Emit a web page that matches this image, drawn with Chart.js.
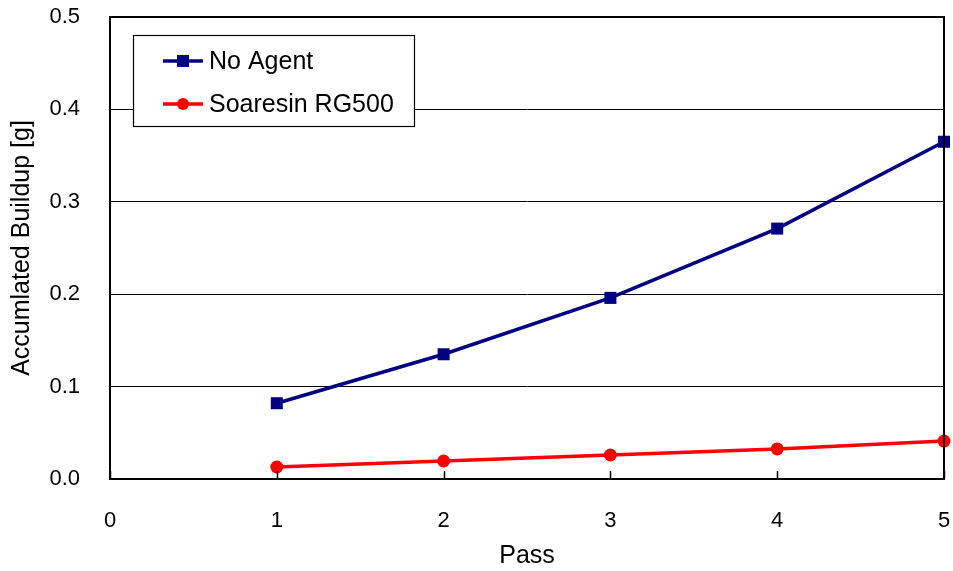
<!DOCTYPE html>
<html>
<head>
<meta charset="utf-8">
<script src="https://cdn.jsdelivr.net/npm/chart.js@4/dist/chart.umd.min.js"></script>
<style>
html,body{margin:0;padding:0;background:#fff;}
#wrap{width:953px;height:571px;}
</style>
</head>
<body>
<div id="wrap"><canvas id="c" width="953" height="571"></canvas></div>
<script>
const passes = [1, 2, 3, 4, 5];
const noAgent = [0.082, 0.135, 0.196, 0.271, 0.365];
const soaresin = [0.013, 0.0195, 0.026, 0.0325, 0.041];
const seriesNames = ['No Agent', 'Soaresin RG500'];
const xTicks = [0, 1, 2, 3, 4, 5];
const yTicks = [0.0, 0.1, 0.2, 0.3, 0.4, 0.5];

const FONT = '"Liberation Sans", Arial, sans-serif';
const AREA = {left: 110, top: 17, right: 944, bottom: 479};

const fixLayout = {
  id: 'fixLayout',
  afterLayout(chart) {
    const W = chart.width, H = chart.height;
    const x = chart.scales.x, y = chart.scales.y;
    x.left = AREA.left; x.right = AREA.right; x.top = AREA.bottom; x.bottom = H;
    x.width = x.right - x.left; x.height = x.bottom - x.top;
    y.left = 0; y.right = AREA.left; y.top = AREA.top; y.bottom = AREA.bottom;
    y.width = y.right - y.left; y.height = y.bottom - y.top;
    x.configure(); y.configure();
    x._labelItems = null; y._labelItems = null;
    x._gridLineItems = null; y._gridLineItems = null;
    chart.chartArea = {left: AREA.left, top: AREA.top, right: AREA.right, bottom: AREA.bottom,
      width: AREA.right - AREA.left, height: AREA.bottom - AREA.top};
  }
};

const framePlugin = {
  id: 'frame',
  afterDatasetsDraw(chart) {
    const {ctx, chartArea: a, scales: {x}} = chart;
    ctx.save();
    ctx.strokeStyle = '#000';
    ctx.lineWidth = 1.5;
    ctx.beginPath();
    xTicks.forEach(v => {
      const px = Math.round(x.getPixelForValue(v)) + 0.5;
      ctx.moveTo(px, a.bottom);
      ctx.lineTo(px, a.bottom - 8);
    });
    ctx.stroke();
    ctx.lineWidth = 2;
    ctx.strokeRect(a.left, a.top, a.right - a.left, a.bottom - a.top);
    // legend
    const bx = 133.5, by = 35.5, bw = 281, bh = 91;
    ctx.fillStyle = '#fff';
    ctx.fillRect(bx, by, bw, bh);
    ctx.lineWidth = 1.2;
    ctx.strokeStyle = '#000';
    ctx.strokeRect(bx, by, bw, bh);
    const rows = [61, 104];
    chart.data.datasets.forEach((ds, i) => {
      const yy = rows[i];
      ctx.strokeStyle = ds.borderColor;
      ctx.lineWidth = 3.5;
      ctx.beginPath();
      ctx.moveTo(163, yy);
      ctx.lineTo(203, yy);
      ctx.stroke();
      ctx.fillStyle = ds.backgroundColor;
      if (ds.pointStyle === 'rect') {
        ctx.fillRect(183 - 6, yy - 6, 12, 12);
      } else {
        ctx.beginPath();
        ctx.arc(183, yy, 6, 0, Math.PI * 2);
        ctx.fill();
      }
      ctx.fillStyle = '#000';
      ctx.font = '25px ' + FONT;
      ctx.textBaseline = 'middle';
      ctx.textAlign = 'left';
      ctx.fillText(ds.label, 209, yy + 1);
    });
    ctx.restore();
  }
};

new Chart(document.getElementById('c'), {
  type: 'line',
  data: {
    datasets: [
      {
        label: seriesNames[0],
        data: passes.map((p, i) => ({x: p, y: noAgent[i]})),
        borderColor: '#000080',
        backgroundColor: '#000080',
        borderWidth: 3.5,
        pointStyle: 'rect',
        pointRadius: 8.5,
        pointHoverRadius: 8.5,
        pointBorderWidth: 0,
        clip: false
      },
      {
        label: seriesNames[1],
        data: passes.map((p, i) => ({x: p, y: soaresin[i]})),
        borderColor: '#FF0000',
        backgroundColor: '#FF0000',
        borderWidth: 3.5,
        pointStyle: 'circle',
        pointRadius: 6.5,
        pointHoverRadius: 6.5,
        pointBorderWidth: 0,
        clip: false
      }
    ]
  },
  options: {
    responsive: false,
    animation: false,
    devicePixelRatio: 1,
    plugins: {legend: {display: false}, tooltip: {enabled: false}},
    scales: {
      x: {
        type: 'linear',
        min: 0, max: 5,
        afterBuildTicks(s) { s.ticks = xTicks.map(v => ({value: v})); },
        grid: {display: false, drawTicks: false},
        border: {display: true, color: '#000', width: 2},
        ticks: {color: '#000', font: {family: FONT, size: 22}, padding: 29, maxRotation: 0},
        title: {display: true, text: 'Pass', color: '#000', font: {family: FONT, size: 25}, padding: {top: 0, bottom: 0}}
      },
      y: {
        type: 'linear',
        min: 0, max: 0.5,
        afterBuildTicks(s) { s.ticks = yTicks.map(v => ({value: v})); },
        grid: {color: '#000', lineWidth: 1, drawTicks: false},
        border: {display: true, color: '#000', width: 2},
        ticks: {color: '#000', font: {family: FONT, size: 22}, padding: 30, callback: v => v.toFixed(1)},
        title: {display: true, text: 'Accumlated Buildup [g]', color: '#000', font: {family: FONT, size: 25}, padding: {top: 7, bottom: 0}}
      }
    }
  },
  plugins: [fixLayout, framePlugin]
});
</script>
</body>
</html>
